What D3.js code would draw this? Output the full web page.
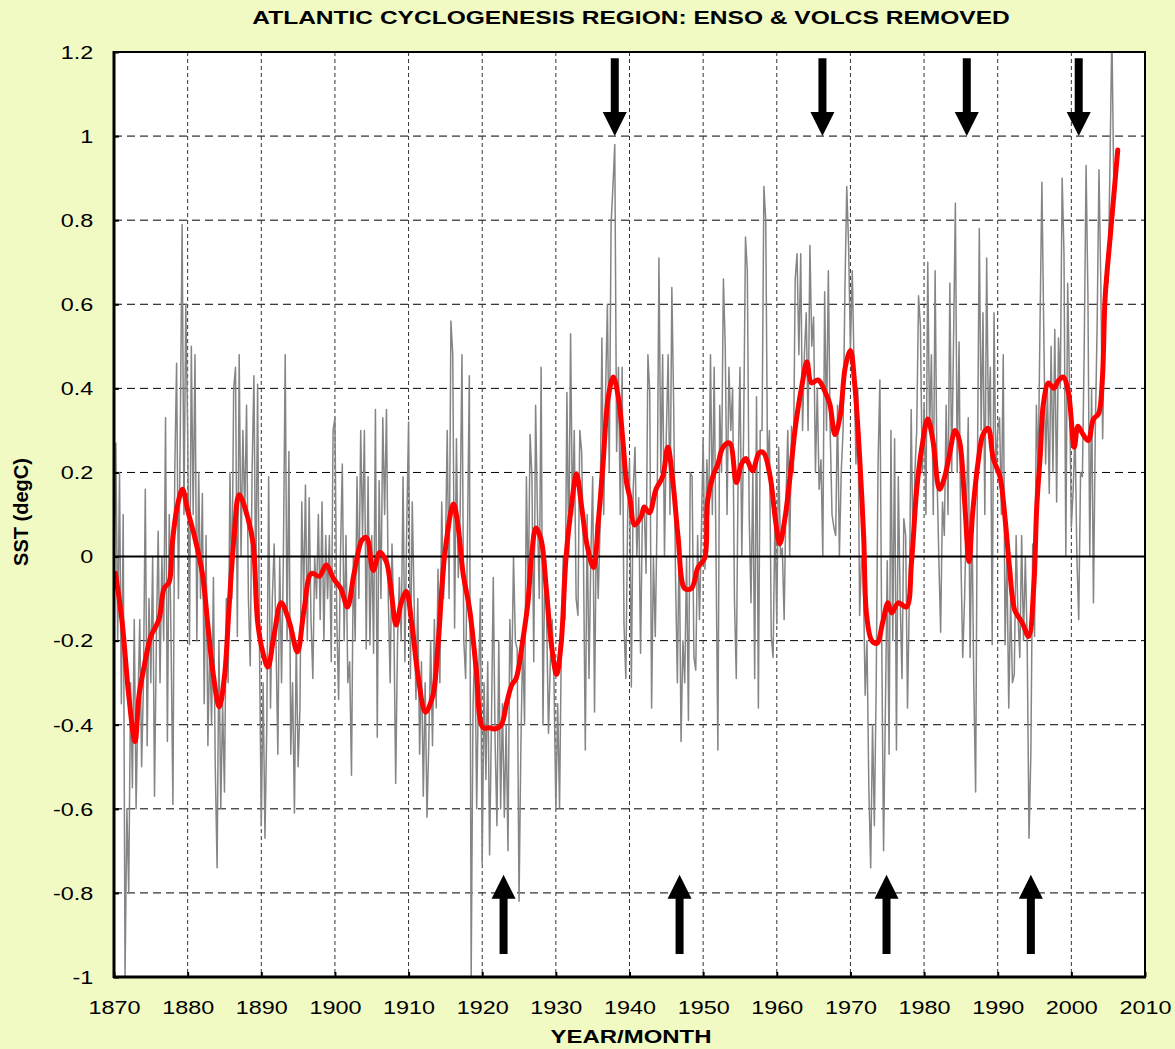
<!DOCTYPE html>
<html><head><meta charset="utf-8">
<script src="https://cdn.jsdelivr.net/npm/d3@7"></script>
<style>body{margin:0;background:#F1FAC3;} svg{display:block}</style>
</head><body>
<svg id="c" width="1175" height="1049"></svg>
<script>
// ---------------- DATA ----------------
const titleText = "ATLANTIC CYCLOGENESIS REGION: ENSO & VOLCS REMOVED";
const yLabelText = "SST (degC)";
const xLabelText = "YEAR/MONTH";
const xTicks = [1870,1880,1890,1900,1910,1920,1930,1940,1950,1960,1970,1980,1990,2000,2010];
const yTicks = [-1,-0.8,-0.6,-0.4,-0.2,0,0.2,0.4,0.6,0.8,1,1.2];
const yTickLabels = ["-1","-0.8","-0.6","-0.4","-0.2","0","0.2","0.4","0.6","0.8","1","1.2"];

// raw SST anomaly (grey), quarterly readings starting 1870.0
const grayStartYear = 1870;
const grayPerYear = 4;
const grayValues = [
-0.05,0.27,-0.2,0.2,
-0.35,0.1,-1.0,-0.6,
-0.8,-0.3,-0.55,-0.15,
-0.6,-0.35,-0.15,-0.5,
-0.3,0.16,-0.45,-0.1,
-0.3,0.0,-0.57,-0.2,
0.06,-0.3,0.0,-0.2,
0.33,-0.44,0.1,-0.2,
-0.59,0.2,0.46,-0.1,
0.3,0.79,0.1,0.6,
0.3,-0.21,0.5,0.1,
0.48,-0.2,0.2,-0.1,
0.15,-0.35,0.05,-0.45,
-0.2,-0.4,-0.05,-0.5,
-0.74,-0.2,-0.6,-0.35,
-0.56,-0.1,-0.3,0.2,
-0.1,0.4,0.45,-0.19,
0.48,0.0,0.3,0.1,
0.36,-0.1,-0.26,0.2,
0.43,-0.1,0.41,-0.2,
-0.64,-0.3,-0.67,-0.4,
0.19,-0.36,-0.1,0.03,
-0.2,-0.47,0.0,-0.3,
0.0,0.48,-0.2,0.25,
-0.47,-0.3,-0.61,-0.2,
-0.5,-0.36,0.13,-0.1,
0.17,-0.2,0.14,-0.15,
-0.29,0.0,-0.1,0.1,
-0.15,0.13,-0.2,0.05,
-0.1,0.05,-0.25,0.3,
0.33,-0.15,-0.34,0.0,
0.22,-0.2,0.05,-0.3,
-0.25,-0.52,0.0,-0.2,
0.19,-0.1,0.3,0.05,
0.3,-0.22,0.19,-0.21,
0.05,-0.23,0.35,-0.43,
0.18,-0.1,0.33,0.1,
0.35,-0.1,-0.3,0.03,
-0.15,-0.54,-0.2,-0.05,
-0.2,0.19,-0.25,0.07,
0.32,-0.29,0.13,-0.1,
-0.34,-0.1,-0.47,-0.25,
-0.57,-0.3,-0.62,-0.44,
-0.2,-0.45,-0.15,-0.36,
-0.03,-0.3,0.13,-0.1,
0.0,0.3,-0.1,0.56,
0.48,-0.17,0.28,-0.05,
0.1,0.48,-0.2,-0.29,
0.05,0.43,-1.0,-0.36,
-0.2,-0.6,-0.3,-0.1,
-0.73,-0.3,-0.53,-0.25,
-0.71,-0.4,-0.05,-0.44,
-0.64,-0.2,-0.6,-0.35,
-0.62,-0.4,-0.7,-0.15,
-0.3,0.0,-0.2,-0.22,
-0.82,-0.45,-0.2,-0.4,
0.19,-0.1,0.29,0.19,
-0.25,0.36,0.1,-0.1,
0.45,-0.4,0.0,-0.15,
-0.42,-0.25,-0.15,-0.3,
-0.6,-0.35,-0.6,-0.2,
0.0,-0.15,0.39,0.0,
0.53,0.1,0.3,-0.1,
-0.14,0.3,0.25,0.0,
-0.46,0.1,-0.29,0.0,
0.19,-0.37,0.08,-0.1,
0.07,0.52,0.1,0.39,
0.6,0.2,0.79,0.88,
0.98,0.25,0.45,0.1,
0.45,-0.16,-0.29,0.1,
0.23,-0.31,0.16,0.26,
0.0,0.14,-0.23,0.1,
0.12,-0.04,0.48,0.39,
-0.36,0.0,-0.19,0.1,
0.71,0.2,0.48,0.0,
0.29,0.48,0.1,0.64,
0.36,-0.05,-0.3,0.05,
-0.44,-0.2,-0.3,0.0,
-0.39,0.2,0.19,-0.24,
-0.27,0.05,-0.15,0.05,
0.28,-0.03,0.23,0.1,
0.48,0.1,0.45,0.0,
-0.46,0.36,0.2,0.66,
0.5,0.1,0.45,0.3,
0.4,-0.1,-0.29,0.2,
0.45,0.0,0.3,0.76,
0.68,0.1,-0.11,0.2,
-0.29,0.38,-0.36,0.3,
0.3,0.88,0.8,0.2,
0.3,-0.19,-0.24,0.1,
-0.16,0.26,0.0,0.02,
-0.15,0.14,0.3,0.0,
0.31,0.2,0.66,0.72,
0.48,0.72,0.3,0.48,
0.58,0.3,0.74,0.5,
0.57,0.2,0.4,0.16,
0.23,0.0,0.63,0.3,
0.68,0.3,0.1,0.07,
0.05,0.36,0.0,0.2,
0.3,0.63,0.88,0.74,
0.49,0.68,0.45,0.22,
0.4,-0.14,0.0,-0.04,
-0.33,-0.2,-0.55,-0.74,
-0.4,-0.64,-0.3,0.22,
0.42,-0.2,-0.7,-0.36,
-0.01,-0.47,0.3,-0.2,
0.28,-0.46,0.19,-0.1,
-0.29,0.09,0.05,-0.36,
-0.1,0.35,0.0,0.2,
0.3,0.62,0.55,0.2,
0.36,0.1,0.7,0.3,
0.48,0.1,0.68,0.2,
0.0,-0.18,0.13,0.05,
0.36,0.1,0.65,0.2,
0.51,0.84,0.2,0.51,
0.0,-0.24,-0.1,0.1,
0.33,-0.24,0.1,-0.3,
-0.56,0.22,0.78,0.3,
0.58,0.1,0.71,0.3,
0.45,-0.21,0.58,0.2,
0.3,0.33,0.1,0.48,
-0.21,0.0,-0.36,-0.1,
-0.3,-0.28,0.05,-0.14,
-0.24,0.05,-0.2,0.0,
-0.2,-0.67,-0.47,0.03,
-0.19,0.36,0.2,0.56,
0.89,0.54,0.22,0.4,
0.15,0.5,0.2,0.54,
0.13,0.52,0.4,0.9,
0.72,0.0,0.65,0.4,
0.07,0.16,0.3,0.0,
-0.15,0.2,0.19,0.5,
0.93,0.62,0.0,0.4,
-0.11,0.3,0.55,0.92,
0.65,0.28,0.55,0.65,
0.65,0.94,1.25,0.9,
0.85
];

// smoothed series (red): [year, value]
const redSeries = [
[1870.2,-0.04],[1871.1,-0.155],[1872.0,-0.33],[1872.85,-0.44],[1873.4,-0.33],[1874.0,-0.27],
[1875.0,-0.19],[1876.1,-0.15],[1876.8,-0.076],[1877.5,-0.06],[1877.9,0.03],[1878.6,0.12],
[1879.3,0.16],[1880.0,0.11],[1880.9,0.05],[1882.0,-0.04],[1882.7,-0.155],[1883.4,-0.27],
[1884.3,-0.357],[1885.0,-0.285],[1885.6,-0.127],[1886.3,0.046],[1887.0,0.147],[1888.2,0.09],
[1888.9,0.03],[1889.5,-0.155],[1890.2,-0.227],[1890.9,-0.263],[1891.7,-0.19],[1892.7,-0.11],
[1893.8,-0.155],[1894.9,-0.227],[1895.8,-0.127],[1896.8,-0.04],[1897.9,-0.047],[1898.8,-0.02],
[1899.9,-0.055],[1900.8,-0.076],[1901.7,-0.12],[1902.6,-0.04],[1903.7,0.04],[1904.3,0.045],
[1905.2,-0.033],[1906.1,0.01],[1906.97,-0.012],[1907.6,-0.076],[1908.3,-0.163],[1909.0,-0.11],
[1909.7,-0.083],[1910.4,-0.155],[1911.3,-0.285],[1912.3,-0.37],[1913.3,-0.33],[1914.0,-0.21],
[1914.9,0.003],[1916.1,0.125],[1916.7,0.075],[1917.4,-0.04],[1918.3,-0.127],[1919.2,-0.27],
[1920.1,-0.407],[1921.0,-0.407],[1921.7,-0.41],[1922.6,-0.4],[1923.3,-0.35],[1924.0,-0.306],
[1924.6,-0.29],[1925.5,-0.2],[1926.2,-0.11],[1926.7,0.003],[1927.3,0.068],[1928.0,0.04],
[1928.7,-0.076],[1929.4,-0.21],[1930.1,-0.28],[1930.7,-0.21],[1931.4,0.003],[1932.1,0.118],
[1932.8,0.197],[1933.5,0.118],[1934.2,0.03],[1935.1,-0.026],[1935.8,0.09],[1936.4,0.22],
[1937.1,0.377],[1937.8,0.427],[1938.5,0.377],[1939.1,0.276],[1939.6,0.176],[1940.05,0.14],
[1940.7,0.075],[1941.6,0.096],[1942.0,0.118],[1942.7,0.104],[1943.6,0.16],[1944.5,0.19],
[1945.2,0.26],[1945.9,0.176],[1946.6,0.046],[1947.5,-0.076],[1948.4,-0.076],[1949.3,-0.026],
[1950.2,-0.004],[1950.6,0.132],[1951.3,0.19],[1952.0,0.22],[1952.7,0.26],[1953.6,0.27],
[1954.5,0.176],[1955.2,0.22],[1955.8,0.233],[1956.7,0.204],[1957.6,0.247],[1958.2,0.247],
[1959.1,0.19],[1959.8,0.09],[1960.4,0.03],[1961.1,0.09],[1961.8,0.19],[1962.5,0.305],
[1963.4,0.406],[1964.1,0.463],[1964.7,0.413],[1965.6,0.42],[1966.6,0.39],[1967.2,0.363],
[1967.9,0.29],[1968.6,0.334],[1969.3,0.45],[1970.0,0.49],[1970.6,0.406],[1971.3,0.22],
[1971.8,0.046],[1972.2,-0.14],[1972.9,-0.2],[1973.6,-0.206],[1974.4,-0.155],[1975.1,-0.11],
[1975.6,-0.134],[1976.5,-0.11],[1977.6,-0.12],[1978.3,-0.012],[1979.0,0.16],[1979.7,0.26],
[1980.5,0.327],[1981.2,0.276],[1982.1,0.16],[1982.8,0.19],[1983.5,0.247],[1984.2,0.3],
[1984.8,0.276],[1985.5,0.132],[1986.1,-0.012],[1986.6,0.104],[1987.3,0.22],[1988.0,0.29],
[1988.7,0.305],[1989.4,0.233],[1990.3,0.19],[1991.0,0.09],[1991.6,-0.026],[1992.3,-0.127],
[1993.0,-0.148],[1993.4,-0.16],[1994.2,-0.19],[1994.9,-0.07],[1995.3,0.118],[1995.8,0.247],
[1996.2,0.363],[1996.9,0.413],[1997.6,0.4],[1998.3,0.42],[1998.9,0.427],[1999.6,0.39],
[2000.4,0.26],[2000.9,0.31],[2001.6,0.29],[2002.3,0.276],[2003.0,0.327],[2003.7,0.34],
[2004.2,0.42],[2004.6,0.62],[2005.3,0.765],[2005.8,0.866],[2006.3,0.967]
];

// arrow markers (years)
const arrowDownYears = [1938.0, 1966.2, 1985.8, 2001.0];
const arrowUpYears = [1922.9, 1946.8, 1974.9, 1994.5];

// ---------------- DRAW ----------------
(function () {
const svg = d3.select("#c");
const W = 1175, H = 1049;
const pL = 114, pR = 1145, pT = 52, pB = 977;
const x = d3.scaleLinear().domain([1870, 2010]).range([pL, pR]);
const y = d3.scaleLinear().domain([-1, 1.2]).range([pB, pT]);
const FONT = "'Liberation Sans', Arial, sans-serif";
const SX = 1.3;

svg.append("rect").attr("width", W).attr("height", H).attr("fill", "#F1FAC3");
svg.append("rect").attr("x", pL).attr("y", pT).attr("width", pR - pL).attr("height", pB - pT).attr("fill", "#fff");

// grid
const g = svg.append("g");
g.selectAll("line.h").data(yTicks.filter(v => v !== 0 && v !== -1 && v !== 1.2)).enter().append("line")
  .attr("x1", pL).attr("x2", pR).attr("y1", d => y(d)).attr("y2", d => y(d))
  .attr("stroke", "#000").attr("stroke-width", 1).attr("stroke-dasharray", "8,5");
g.selectAll("line.v").data(xTicks.filter(v => v !== 1870 && v !== 2010)).enter().append("line")
  .attr("y1", pT).attr("y2", pB).attr("x1", d => x(d)).attr("x2", d => x(d))
  .attr("stroke", "#333").attr("stroke-width", 1).attr("stroke-dasharray", "4,3");

// clip
svg.append("clipPath").attr("id", "clip").append("rect")
  .attr("x", pL).attr("y", pT).attr("width", pR - pL).attr("height", pB - pT);

const grayPts = grayValues.map((v, i) => [grayStartYear + i / grayPerYear, v]);
const line = d3.line().x(d => x(d[0])).y(d => y(d[1]));
svg.append("path").attr("clip-path", "url(#clip)").attr("d", line(grayPts))
  .attr("fill", "none").attr("stroke", "#858585").attr("stroke-width", 1.5).attr("stroke-linejoin", "round");

// zero line
svg.append("line").attr("x1", pL).attr("x2", pR).attr("y1", y(0)).attr("y2", y(0))
  .attr("stroke", "#000").attr("stroke-width", 2);

const redLine = d3.line().x(d => x(d[0])).y(d => y(d[1])).curve(d3.curveCatmullRom);
svg.append("path").attr("clip-path", "url(#clip)").attr("d", redLine(redSeries))
  .attr("fill", "none").attr("stroke", "#FF0000").attr("stroke-width", 5)
  .attr("stroke-linejoin", "round").attr("stroke-linecap", "round");

// arrows
const ah = svg.append("g").attr("fill", "#000");
arrowDownYears.forEach(yr => {
  const cx = x(yr), y0 = y(1.185), tip = y(1.0), hb = tip - 24;
  ah.append("path").attr("d", `M${cx-4},${y0}L${cx+4},${y0}L${cx+4},${hb}L${cx+12},${hb}L${cx},${tip}L${cx-12},${hb}L${cx-4},${hb}Z`);
});
arrowUpYears.forEach(yr => {
  const cx = x(yr), y0 = y(-0.945), tip = y(-0.757), hb = tip + 24;
  ah.append("path").attr("d", `M${cx-4},${y0}L${cx+4},${y0}L${cx+4},${hb}L${cx+12},${hb}L${cx},${tip}L${cx-12},${hb}L${cx-4},${hb}Z`);
});

// frame
svg.append("rect").attr("x", pL).attr("y", pT).attr("width", pR - pL).attr("height", pB - pT)
  .attr("fill", "none").attr("stroke", "#000").attr("stroke-width", 2);
svg.append("line").attr("x1", pL).attr("x2", pL).attr("y1", pT - 1).attr("y2", pB + 1).attr("stroke", "#000").attr("stroke-width", 3);
svg.append("line").attr("x1", pL - 1).attr("x2", pR + 1).attr("y1", pB).attr("y2", pB).attr("stroke", "#000").attr("stroke-width", 3);

// axes
const xAxis = d3.axisBottom(x).tickValues(xTicks).tickFormat(d3.format("d")).tickSize(-5).tickPadding(0);
const xa = svg.append("g").attr("transform", `translate(0,${pB})`).call(xAxis);
xa.select(".domain").remove();
xa.selectAll(".tick line").attr("stroke", "#000").attr("stroke-width", 2);
xa.selectAll(".tick text").attr("font-family", FONT).attr("font-size", 18).attr("fill", "#000")
  .attr("y", 37).attr("dy", null).attr("transform", `scale(${SX},1)`);

const yAxis = d3.axisLeft(y).tickValues(yTicks).tickFormat((d, i) => yTickLabels[i]).tickSize(-5).tickPadding(0);
const ya = svg.append("g").attr("transform", `translate(${pL},0)`).call(yAxis);
ya.select(".domain").remove();
ya.selectAll(".tick line").attr("stroke", "#000").attr("stroke-width", 2);
ya.selectAll(".tick text").attr("font-family", FONT).attr("font-size", 18).attr("fill", "#000")
  .attr("x", -16).attr("dy", "0.35em").attr("transform", `scale(${SX},1)`);

// titles
function stretchedText(txt, cx, cy, size, target, rotate) {
  const t = svg.append("text").text(txt).attr("font-family", FONT).attr("font-weight", "bold")
    .attr("font-size", size).attr("text-anchor", "middle").attr("fill", "#000");
  const len = t.node().getComputedTextLength();
  const s = target / len;
  if (rotate) t.attr("transform", `translate(${cx},${cy}) rotate(-90) scale(${s},${SX})`);
  else t.attr("transform", `translate(${cx},${cy}) scale(${s},1)`);
  return t;
}
stretchedText(titleText, 631, 24, 19, 758, false);
stretchedText(xLabelText, 631, 1043, 19, 161, false);
stretchedText(yLabelText, 28, 512, 16, 108, true);
})();
</script>
</body></html>
